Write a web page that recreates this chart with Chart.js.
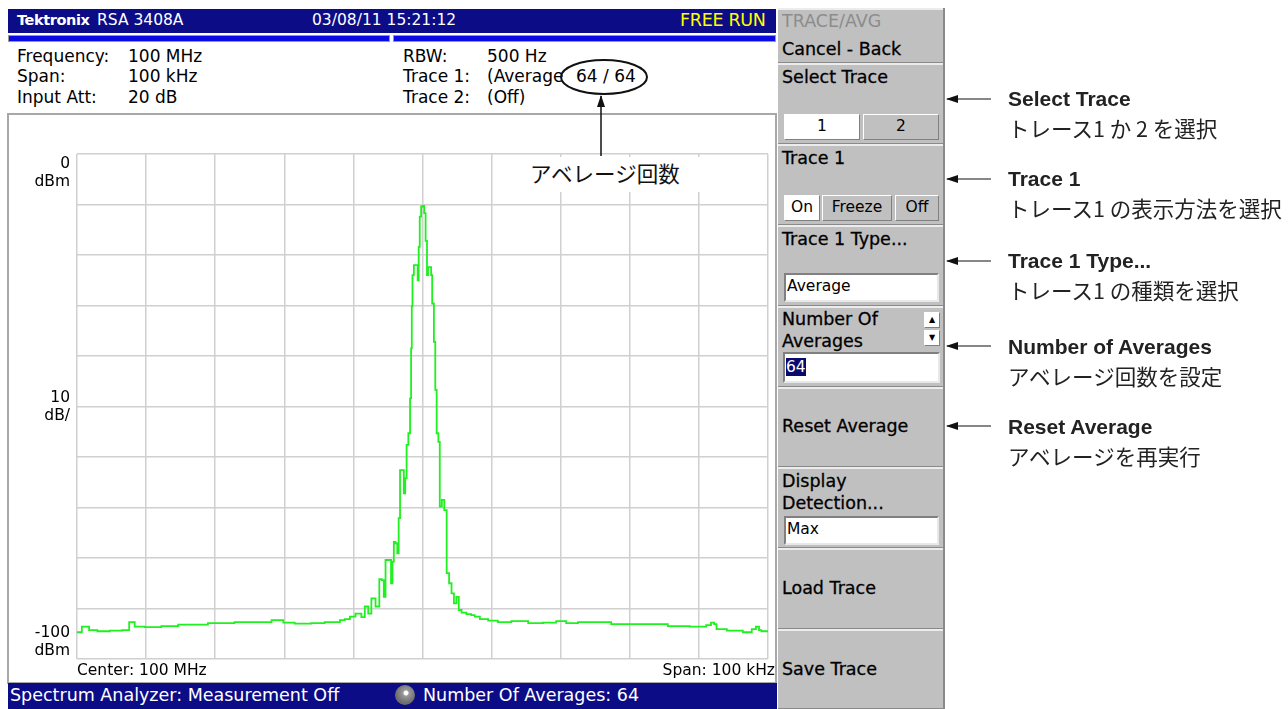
<!DOCTYPE html>
<html>
<head>
<meta charset="utf-8">
<script src="https://cdn.jsdelivr.net/npm/chart.js@4.4.0/dist/chart.umd.min.js"></script>
<style>
  body { margin: 0; width: 1288px; height: 709px; background: #fff; overflow: hidden; position: relative; font-family: "DejaVu Sans", sans-serif; }
  .abs { position: absolute; white-space: nowrap; }
  .bar { background: #0c0c86; color: #fff; }
  .info { font-size: 17px; color: #000; line-height: 20px; }
  .pnl { position: absolute; left: 778px; width: 166px; background: #c0c0c0; box-sizing: border-box;
         border-top: 2px solid #ececec; border-bottom: 1px solid #8a8a8a; }
  .pt { position: absolute; left: 4px; font-size: 17.5px; color: #000; line-height: 21px; -webkit-text-stroke: 0.3px #000; }
  .btn { position: absolute; box-sizing: border-box; font-size: 15.5px; text-align: center; line-height: 23px;
         border: 1px solid; border-color: #fff #808080 #808080 #fff; background: #c0c0c0; }
  .btn.on { background: #fff; }
  .fld { position: absolute; box-sizing: border-box; background: #fff; font-size: 15.5px; line-height: 23px; padding-left: 1px;
         border: 2px solid; border-color: #808080 #e8e8e8 #e8e8e8 #808080; }
  .ann { position: absolute; left: 1008px; font-family: "Liberation Sans", Arial, sans-serif; font-weight: bold; font-size: 21px; color: #222; }
  .jp { position: absolute; left: 1008px; font-family: "Noto Sans CJK JP", sans-serif; font-size: 21.5px; color: #222; line-height: 28px; }
</style>
</head>
<body>

<!-- instrument screen -->
<div class="abs bar" style="left:8px;top:9px;width:768px;height:24px;"></div>
<div class="abs" style="left:17px;top:12px;font-size:14.5px;color:#fff;font-weight:bold;letter-spacing:-0.4px;">Tektronix</div>
<div class="abs" style="left:97px;top:11px;font-size:15.5px;color:#fff;">RSA 3408A</div>
<div class="abs" style="left:312px;top:11px;font-size:15.5px;color:#fff;">03/08/11 15:21:12</div>
<div class="abs" style="left:680px;top:10px;font-size:17.5px;color:#ffff00;letter-spacing:-0.3px;">FREE RUN</div>
<div class="abs" style="left:8px;top:35px;width:382px;height:7px;background:#0a0ae6;border:1px solid #9a9a9a;box-sizing:border-box;"></div>
<div class="abs" style="left:393px;top:35px;width:383px;height:7px;background:#0a0ae6;border:1px solid #9a9a9a;box-sizing:border-box;"></div>

<div class="abs info" style="left:17px;top:46px;">Frequency:</div>
<div class="abs info" style="left:17px;top:66px;">Span:</div>
<div class="abs info" style="left:17px;top:87px;">Input Att:</div>
<div class="abs info" style="left:128px;top:46px;">100 MHz</div>
<div class="abs info" style="left:128px;top:66px;">100 kHz</div>
<div class="abs info" style="left:128px;top:87px;">20 dB</div>
<div class="abs info" style="left:403px;top:46px;">RBW:</div>
<div class="abs info" style="left:403px;top:66px;">Trace 1:</div>
<div class="abs info" style="left:403px;top:87px;">Trace 2:</div>
<div class="abs info" style="left:487px;top:46px;">500 Hz</div>
<div class="abs info" style="left:487px;top:66px;">(Average</div>
<div class="abs info" style="left:487px;top:87px;">(Off)</div>
<div class="abs info" style="left:576px;top:66px;">64 / 64</div>

<div class="abs" style="left:7px;top:113px;width:770px;height:571px;border:2px solid #a8a8a8;box-sizing:border-box;"></div>
<div class="abs" style="left:9px;top:118px;width:766px;height:564px;">
  <canvas id="canvasTrace" width="766" height="564"></canvas>
</div>
<!-- label backdrop over grid -->
<div class="abs" style="left:519px;top:157px;width:181px;height:35px;background:#fff;"></div>
<div class="abs" style="left:530px;top:157px;font-family:'Noto Sans CJK JP';font-size:21.5px;color:#111;">アベレージ回数</div>

<div class="abs bar" style="left:8px;top:683px;width:769px;height:26px;"></div>
<div class="abs" style="left:10px;top:685px;font-size:17.5px;color:#fff;">Spectrum Analyzer: Measurement Off</div>
<div class="abs" style="left:395px;top:685px;width:20px;height:20px;border-radius:50%;background:radial-gradient(circle at 55% 40%, #fff 0 2px, #9a9a9a 3px, #6e6e6e 10px);"></div>
<div class="abs" style="left:423px;top:685px;font-size:17.5px;color:#fff;">Number Of Averages: 64</div>

<!-- right soft-key panel -->
<div class="pnl" style="top:8px;height:55px;">
  <div class="pt" style="top:1px;color:#8c8c8c;-webkit-text-stroke:0;">TRACE/AVG</div>
  <div class="pt" style="top:29px;">Cancel - Back</div>
</div>
<div class="pnl" style="top:63px;height:81px;">
  <div class="pt" style="top:2px;">Select Trace</div>
  <div class="btn on" style="left:6px;top:49px;width:76px;height:26px;">1</div>
  <div class="btn" style="left:85px;top:49px;width:76px;height:26px;">2</div>
</div>
<div class="pnl" style="top:144px;height:81px;">
  <div class="pt" style="top:2px;">Trace 1</div>
  <div class="btn on" style="left:6px;top:49px;width:36px;height:26px;">On</div>
  <div class="btn" style="left:44px;top:49px;width:70px;height:26px;">Freeze</div>
  <div class="btn" style="left:117px;top:49px;width:44px;height:26px;">Off</div>
</div>
<div class="pnl" style="top:225px;height:81px;">
  <div class="pt" style="top:2px;">Trace 1 Type...</div>
  <div class="fld" style="left:6px;top:46px;width:155px;height:29px;">Average</div>
</div>
<div class="pnl" style="top:306px;height:81px;">
  <div class="pt" style="top:1px;">Number Of</div>
  <div class="pt" style="top:23px;">Averages</div>
  <div class="btn on" style="left:146px;top:4px;width:16px;height:16px;font-size:8px;line-height:14px;">&#9650;</div>
  <div class="btn on" style="left:146px;top:22px;width:16px;height:16px;font-size:8px;line-height:14px;">&#9660;</div>
  <div class="fld" style="left:5px;top:44px;width:157px;height:31px;line-height:26px;"><span style="background:#0a0a6e;color:#fff;">64</span></div>
</div>
<div class="pnl" style="top:387px;height:80px;">
  <div class="pt" style="top:27px;">Reset Average</div>
</div>
<div class="pnl" style="top:467px;height:81px;">
  <div class="pt" style="top:2px;">Display</div>
  <div class="pt" style="top:24px;">Detection...</div>
  <div class="fld" style="left:6px;top:47px;width:155px;height:29px;">Max</div>
</div>
<div class="pnl" style="top:548px;height:81px;">
  <div class="pt" style="top:28px;">Load Trace</div>
</div>
<div class="pnl" style="top:629px;height:80px;">
  <div class="pt" style="top:28px;">Save Trace</div>
</div>
<div class="abs" style="left:943px;top:8px;width:2px;height:701px;background:#8a8a8a;"></div>

<!-- callouts -->
<svg class="abs" style="left:0;top:0;" width="1288" height="709">
  <defs>
    <marker id="ah" markerWidth="12" markerHeight="8" refX="11" refY="4" orient="auto" markerUnits="userSpaceOnUse">
      <path d="M0,0 L12,4 L0,8 Z" fill="#111"/>
    </marker>
  </defs>
  <ellipse cx="604" cy="77" rx="43" ry="17" fill="none" stroke="#111" stroke-width="2"/>
  <line x1="601" y1="156" x2="601" y2="96" stroke="#111" stroke-width="1.5" marker-end="url(#ah)"/>
  <line x1="991" y1="99" x2="947" y2="99" stroke="#111" stroke-width="1.2" marker-end="url(#ah)"/>
  <line x1="991" y1="179" x2="947" y2="179" stroke="#111" stroke-width="1.2" marker-end="url(#ah)"/>
  <line x1="991" y1="261" x2="947" y2="261" stroke="#111" stroke-width="1.2" marker-end="url(#ah)"/>
  <line x1="991" y1="346" x2="947" y2="346" stroke="#111" stroke-width="1.2" marker-end="url(#ah)"/>
  <line x1="991" y1="426" x2="947" y2="426" stroke="#111" stroke-width="1.2" marker-end="url(#ah)"/>
</svg>

<div class="ann" style="top:87px;">Select Trace</div>
<div class="jp" style="top:114px;">トレース1 か 2 を選択</div>
<div class="ann" style="top:167px;">Trace 1</div>
<div class="jp" style="top:194px;">トレース1 の表示方法を選択</div>
<div class="ann" style="top:249px;">Trace 1 Type...</div>
<div class="jp" style="top:276px;">トレース1 の種類を選択</div>
<div class="ann" style="top:335px;">Number of Averages</div>
<div class="jp" style="top:362px;">アベレージ回数を設定</div>
<div class="ann" style="top:415px;">Reset Average</div>
<div class="jp" style="top:442px;">アベレージを再実行</div>

<script>
const ctxTrace = document.getElementById('canvasTrace');

// trace 1 (average 64/64), offset from center in kHz, level in dBm
const freqKHz = [
  -50.0, -48.6, -47.9, -46.2, -44.3, -42.6, -42.3, -41.9, -41.4, -39.0,
  -36.6, -34.1, -31.8, -30.3, -28.4, -26.0, -23.1, -20.6, -19.7, -17.3,
  -14.9, -13.4, -12.4, -11.5, -11.0, -10.0, -9.4, -9.1, -8.6, -8.1,
  -7.6, -7.2, -6.4, -6.1, -5.7, -5.5, -5.2, -4.7, -4.4, -4.3,
  -4.0, -3.8, -3.5, -3.4, -3.1, -2.8, -2.6, -2.4, -2.2, -1.9,
  -1.7, -1.6, -1.5, -1.4, -1.1, -0.8, -0.6, -0.5, -0.3, -0.1,
  0.2, 0.3, 0.6, 0.7, 0.9, 1.2, 1.3, 1.5, 1.8, 1.9,
  2.2, 2.4, 2.6, 3.0, 3.3, 3.7, 4.0, 4.4, 4.7, 5.1,
  5.4, 5.9, 6.8, 7.3, 7.8, 8.8, 10.2, 11.6, 14.1, 16.5,
  18.4, 20.3, 21.3, 23.7, 26.1, 28.5, 30.9, 34.3, 36.7, 40.6,
  41.5, 42.0, 42.4, 42.7, 45.4, 47.3, 48.0, 48.5, 48.9, 49.2,
  50.0
];
const levelDbm = [
  -94.7, -93.6, -94.3, -94.5, -94.4, -94.3, -92.7, -92.7, -93.6, -93.7,
  -93.5, -93.2, -93.2, -92.9, -92.9, -92.7, -92.7, -92.3, -92.8, -93.0,
  -92.9, -92.7, -92.7, -92.3, -92.1, -91.6, -91.0, -91.0, -91.7, -89.6,
  -91.0, -88.0, -89.6, -84.2, -84.4, -87.7, -80.4, -80.4, -85.0, -80.7,
  -76.8, -77.1, -79.1, -72.1, -62.6, -62.6, -67.2, -64.2, -57.6, -55.3,
  -48.4, -38.5, -30.1, -24.0, -22.0, -22.0, -25.0, -18.4, -12.4, -10.4,
  -10.3, -11.7, -17.2, -24.0, -22.4, -22.4, -24.0, -29.6, -37.2, -46.7,
  -55.3, -57.0, -69.8, -68.5, -70.5, -83.0, -85.0, -87.0, -89.0, -87.7,
  -90.3, -90.8, -91.1, -91.3, -91.6, -92.1, -92.4, -92.7, -92.5, -92.9,
  -92.8, -92.5, -92.9, -92.7, -92.7, -93.1, -93.1, -93.1, -93.5, -93.6,
  -93.3, -92.8, -93.1, -94.1, -94.4, -94.7, -94.1, -93.6, -94.3, -94.5,
  -94.5
];

const yTickValues = [0, -50, -100];
const yTickText = [['0', 'dBm'], ['10', 'dB/'], ['-100', 'dBm']];
const xFooter = ['Center: 100 MHz', 'Span: 100 kHz'];

const scaleLabels = {
  id: 'scaleLabels',
  afterDraw(chart) {
    const c = chart.ctx, a = chart.chartArea, y = chart.scales.y;
    c.save();
    c.fillStyle = '#000';
    c.font = '15.5px "DejaVu Sans"';
    c.textAlign = 'right';
    c.textBaseline = 'middle';
    yTickValues.forEach((v, i) => {
      const p = y.getPixelForValue(v);
      const lines = yTickText[i];
      let start;
      if (i === 0) start = p + 10;
      else if (i === yTickText.length - 1) start = p - 26;
      else start = p - 9;
      lines.forEach((t, k) => c.fillText(t, a.left - 7, start + k * 18));
    });
    c.textAlign = 'left';
    c.fillText(xFooter[0], a.left, a.bottom + 12);
    c.textAlign = 'right';
    c.fillText(xFooter[1], a.right + 7, a.bottom + 12);
    c.restore();
  }
};

new Chart(ctxTrace, {
  type: 'line',
  data: {
    datasets: [{
      label: 'Trace 1',
      data: freqKHz.map((f, i) => ({ x: f, y: levelDbm[i] })),
      borderColor: '#1ff01f',
      borderWidth: 1.8,
      pointRadius: 0,
      stepped: 'middle',
      fill: false
    }]
  },
  options: {
    animation: false,
    responsive: false,
    events: [],
    layout: { padding: { left: 68, right: 7, top: 36, bottom: 23 } },
    plugins: { legend: { display: false }, tooltip: { enabled: false } },
    scales: {
      x: {
        type: 'linear', min: -50, max: 50,
        ticks: { display: false, stepSize: 10 },
        grid: { color: '#d0d0d0', lineWidth: 1.5, drawTicks: false },
        border: { display: false },
        afterFit(s) { s.height = 0; }
      },
      y: {
        min: -100, max: 0,
        ticks: { display: false, stepSize: 10 },
        grid: { color: '#d0d0d0', lineWidth: 1.5, drawTicks: false },
        border: { display: false },
        afterFit(s) { s.width = 0; }
      }
    }
  },
  plugins: [scaleLabels]
});
</script>
</body>
</html>
